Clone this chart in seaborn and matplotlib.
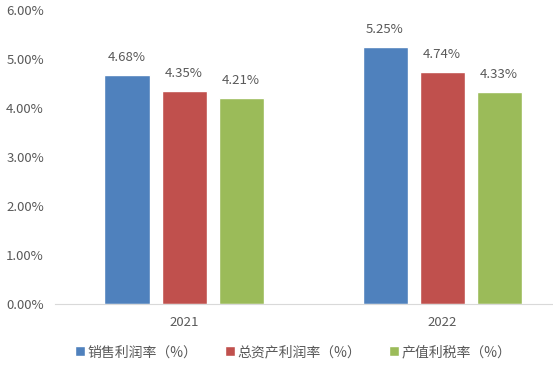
import matplotlib
matplotlib.use("Agg")
import matplotlib.pyplot as plt
import seaborn as sns
import pandas as pd
from matplotlib.ticker import FuncFormatter

years = ["2021", "2022"]
series = ["销售利润率（%）", "总资产利润率（%）", "产值利税率（%）"]
values = {
    "销售利润率（%）": [4.68, 5.25],
    "总资产利润率（%）": [4.35, 4.74],
    "产值利税率（%）": [4.21, 4.33],
}
colors = ["#4F81BD", "#C0504D", "#9BBB59"]

rows = []
for s in series:
    for y, v in zip(years, values[s]):
        rows.append({"year": y, "series": s, "value": v})
df = pd.DataFrame(rows)

sns.set_style("white")
plt.rcParams['font.family'] = ['Noto Sans CJK SC', 'DejaVu Sans']
text_color = "#595959"

fig = plt.figure(figsize=(5.53, 3.68), dpi=100)
ax = fig.add_axes([0.0995, 0.174, 0.9005, 0.799])

sns.barplot(data=df, x="year", y="value", hue="series", hue_order=series,
            palette=colors, width=0.663, gap=0.21, saturation=1, ax=ax)

for cont in ax.containers:
    ax.bar_label(cont, labels=[f"{v:.2f}%" for v in cont.datavalues],
                 padding=8, fontsize=9.5, color=text_color)

ax.set_ylim(0, 6)
ax.set_xlim(-0.5, 1.43)
ax.set_yticks([0, 1, 2, 3, 4, 5, 6])
ax.yaxis.set_major_formatter(FuncFormatter(lambda v, p: f"{v:.2f}%"))
ax.tick_params(axis="both", length=0, labelsize=9.5, colors=text_color)
ax.tick_params(axis="x", pad=9)
ax.tick_params(axis="y", pad=8)
ax.set_xlabel("")
ax.set_ylabel("")
for side in ["top", "right", "left"]:
    ax.spines[side].set_visible(False)
ax.spines["bottom"].set_color("#D9D9D9")
ax.grid(False)

handles, labels = ax.get_legend_handles_labels()
ax.get_legend().remove()
fig.legend(handles, labels, loc="center", bbox_to_anchor=(0.53, 0.043), ncol=3,
           frameon=False, fontsize=10, labelcolor=text_color,
           handlelength=0.7, handleheight=0.7, handletextpad=0.2, columnspacing=2.0)

fig.savefig("out.png", dpi=100)
